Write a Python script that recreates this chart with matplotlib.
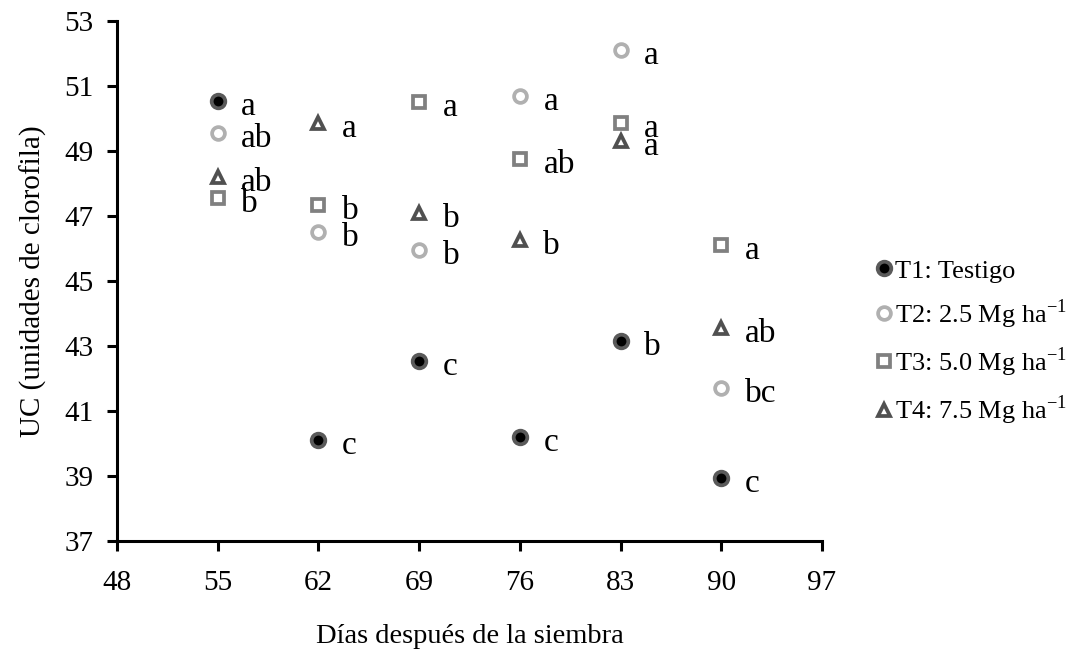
import matplotlib
matplotlib.use("Agg")
import matplotlib.pyplot as plt
from matplotlib.lines import Line2D

plt.rcParams['font.family'] = ['Liberation Serif', 'DejaVu Serif']
plt.rcParams['mathtext.fontset'] = 'custom'
plt.rcParams['mathtext.rm'] = 'Liberation Serif'

days = [55, 62, 69, 76, 83, 90]
t1 = [50.55, 40.1, 42.55, 40.2, 43.15, 38.95]
t2 = [49.55, 46.5, 45.95, 50.7, 52.1, 41.7]
t3 = [47.55, 47.35, 50.5, 48.75, 49.85, 46.1]
t4 = [48.2, 49.85, 47.1, 46.25, 49.3, 43.55]
t1_let = ['a', 'c', 'c', 'c', 'b', 'c']
t2_let = ['ab', 'b', 'b', 'a', 'a', 'bc']
t3_let = ['b', 'b', 'a', 'ab', 'a', 'a']
t4_let = ['ab', 'a', 'b', 'b', 'a', 'ab']
labels = ['T1: Testigo', 'T2: 2.5 Mg ha$^{-1}$', 'T3: 5.0 Mg ha$^{-1}$', 'T4: 7.5 Mg ha$^{-1}$']
xticks = [48, 55, 62, 69, 76, 83, 90, 97]
yticks = [37, 39, 41, 43, 45, 47, 49, 51, 53]

fig = plt.figure(figsize=(10.89, 6.51), dpi=100)
ax = fig.add_axes([117/1089, 1 - 541/651, (822 - 117)/1089, (541 - 21)/651])

styles = [
    dict(marker='o', markersize=9.8, markerfacecolor='black', markeredgecolor='#5a5a5a', markeredgewidth=2.7),
    dict(marker='o', markersize=9.2, markerfacecolor='white', markeredgecolor='#b0b0b0', markeredgewidth=2.7),
    dict(marker='s', markersize=9.2, markerfacecolor='white', markeredgecolor='#808080', markeredgewidth=2.7),
    dict(marker='^', markersize=9.2, markerfacecolor='white', markeredgecolor='#505050', markeredgewidth=2.7),
]
series = [(t1, t1_let), (t2, t2_let), (t3, t3_let), (t4, t4_let)]
handles = []
for (vals, lets), st, lab in zip(series, styles, labels):
    ax.plot(days, vals, linestyle='none', **st)
    handles.append(Line2D([], [], linestyle='none', **st))
    for d, v, l in zip(days, vals, lets):
        ax.annotate(l, (d, v), xytext=(17, -10), textcoords='offset points',
                    ha='left', va='baseline', fontsize=24)

ax.set_xlim(48, 97)
ax.set_ylim(37, 53)
ax.set_xticks(xticks)
ax.set_yticks(yticks)
for s in ['top', 'right']:
    ax.spines[s].set_visible(False)
for s in ['left', 'bottom']:
    ax.spines[s].set_linewidth(2.2)
ax.tick_params(axis='both', direction='out', length=7, width=2.2, labelsize=21)
ax.tick_params(axis='x', pad=14)
ax.tick_params(axis='y', pad=10)
ax.set_xlabel('Días después de la siembra', fontsize=20.5, labelpad=20)
ax.set_ylabel('UC (unidades de clorofila)', fontsize=21, labelpad=12)

fig.legend(handles, labels, loc='center left', bbox_to_anchor=(866/1089, 1 - 343/651),
           frameon=False, fontsize=19, handlelength=0.6, handletextpad=0.1,
           labelspacing=0.55, borderaxespad=0)

fig.savefig('out.png', dpi=100)
